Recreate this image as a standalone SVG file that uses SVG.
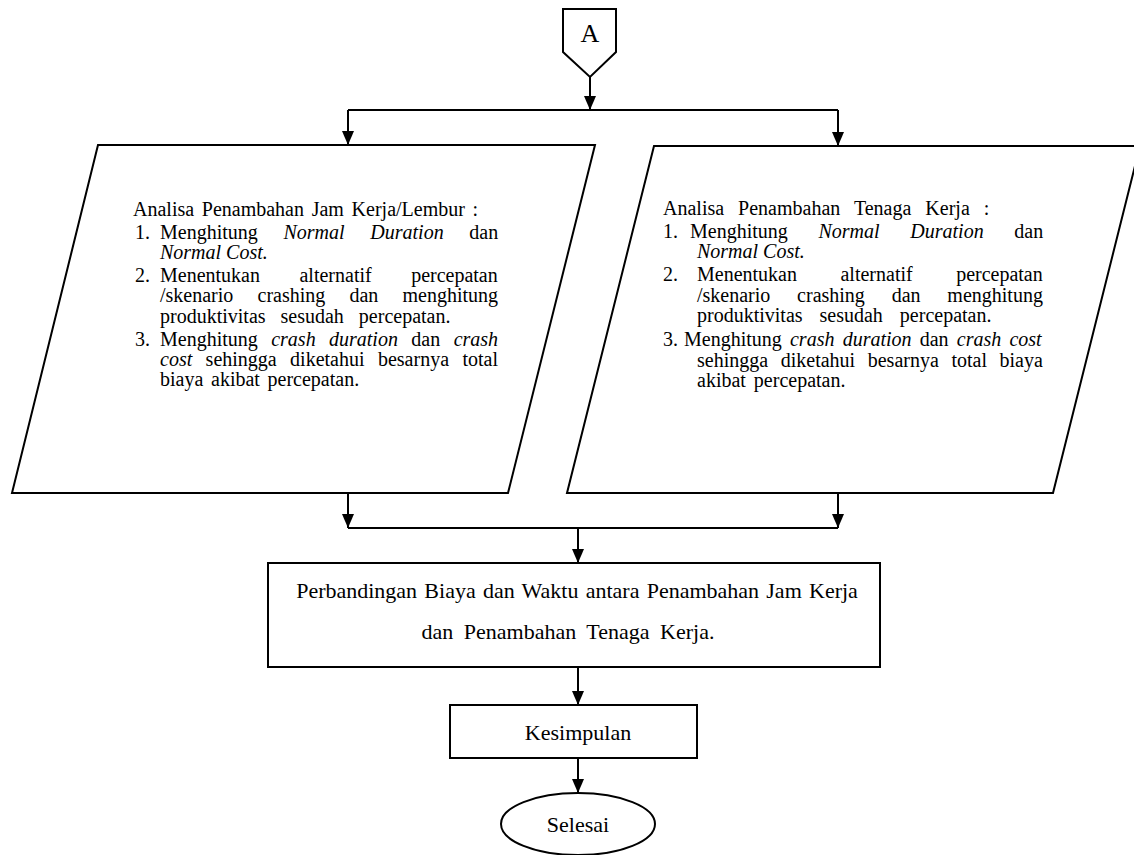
<svg xmlns="http://www.w3.org/2000/svg" width="1134" height="855" viewBox="0 0 1134 855">
<style>
.s{fill:#fff;stroke:#000;stroke-width:2}
.c{fill:none;stroke:#000;stroke-width:2}
.h{fill:#000}
text{font-family:"Liberation Serif","Times New Roman",serif;fill:#000}
.b{font-size:20px}
.m{font-size:22px}
.i{font-style:italic}
.mid{text-anchor:middle}
</style>
<rect width="1134" height="855" fill="#fff"/>

<g id="connectors">
<path class="c" d="M590,77 V110"/>
<polygon class="h" points="584,96 596,96 590,110"/>
<path class="c" d="M348,110 H838"/>
<path class="c" d="M348,110 V145"/>
<polygon class="h" points="342,131 354,131 348,145"/>
<path class="c" d="M838,110 V146"/>
<polygon class="h" points="832,132 844,132 838,146"/>
<path class="c" d="M348,493 V528"/>
<polygon class="h" points="342,514 354,514 348,528"/>
<path class="c" d="M838,493 V528"/>
<polygon class="h" points="832,514 844,514 838,528"/>
<path class="c" d="M348,528 H838"/>
<path class="c" d="M578,528 V563"/>
<polygon class="h" points="572,549 584,549 578,563"/>
<path class="c" d="M578,667 V705"/>
<polygon class="h" points="572,691 584,691 578,705"/>
<path class="c" d="M578,758 V793"/>
<polygon class="h" points="572,779 584,779 578,793"/>
</g>

<g id="nodeA">
<polygon class="s" points="563,9 616,9 616,52 590,77 563,52"/>
<text x="590" y="42" class="mid" font-size="26">A</text>
</g>

<g id="nodeLembur">
<polygon class="s" points="98,145 595,145 508,493 12,493"/>
<text class="b" x="133" y="216" word-spacing="2.7">Analisa Penambahan Jam Kerja/Lembur :</text>
<text class="b" x="135" y="239">1.</text>
<text class="b" x="160" y="239" word-spacing="20.7">Menghitung <tspan class="i">Normal Duration</tspan> dan</text>
<text class="b i" x="160" y="259">Normal Cost.</text>
<text class="b" x="135" y="282">2.</text>
<text class="b" x="160" y="282" word-spacing="34.5">Menentukan alternatif percepatan</text>
<text class="b" x="160" y="302" word-spacing="19.2">/skenario crashing dan menghitung</text>
<text class="b" x="160" y="323" word-spacing="10">produktivitas sesudah percepatan.</text>
<text class="b" x="135" y="346">3.</text>
<text class="b" x="160" y="346" word-spacing="8.4">Menghitung <tspan class="i">crash duration</tspan> dan <tspan class="i">crash</tspan></text>
<text class="b" x="160" y="366" word-spacing="8.4"><tspan class="i">cost</tspan> sehingga diketahui besarnya total</text>
<text class="b" x="160" y="386" word-spacing="2.7">biaya akibat percepatan.</text>
</g>

<g id="nodeTenaga">
<polygon class="s" points="654,146 1140,146 1053,493 567,493"/>
<text class="b" x="663" y="215" word-spacing="9">Analisa Penambahan Tenaga Kerja :</text>
<text class="b" x="663" y="238">1.</text>
<text class="b" x="690" y="238" word-spacing="25.7">Menghitung <tspan class="i">Normal Duration</tspan> dan</text>
<text class="b i" x="697" y="258">Normal Cost.</text>
<text class="b" x="663" y="281">2.</text>
<text class="b" x="697" y="281" word-spacing="38.5">Menentukan alternatif percepatan</text>
<text class="b" x="697" y="302" word-spacing="21.8">/skenario crashing dan menghitung</text>
<text class="b" x="697" y="322" word-spacing="12">produktivitas sesudah percepatan.</text>
<text class="b" x="663" y="346">3.</text>
<text class="b" x="684" y="346" word-spacing="3.2">Menghitung <tspan class="i">crash duration</tspan> dan <tspan class="i">crash cost</tspan></text>
<text class="b" x="697" y="367" word-spacing="7.6">sehingga diketahui besarnya total biaya</text>
<text class="b" x="697" y="387" word-spacing="3">akibat percepatan.</text>
</g>

<g id="nodePerbandingan">
<rect class="s" x="268" y="563" width="612" height="104"/>
<text class="m mid" x="577" y="598" word-spacing="1.75">Perbandingan Biaya dan Waktu antara Penambahan Jam Kerja</text>
<text class="m mid" x="568" y="639" word-spacing="5">dan Penambahan Tenaga Kerja.</text>
</g>

<g id="nodeKesimpulan">
<rect class="s" x="450" y="705" width="247" height="53"/>
<text class="m mid" x="578" y="740">Kesimpulan</text>
</g>

<g id="nodeSelesai">
<ellipse class="s" cx="578" cy="824" rx="77" ry="31"/>
<text class="m mid" x="578" y="832">Selesai</text>
</g>
</svg>
